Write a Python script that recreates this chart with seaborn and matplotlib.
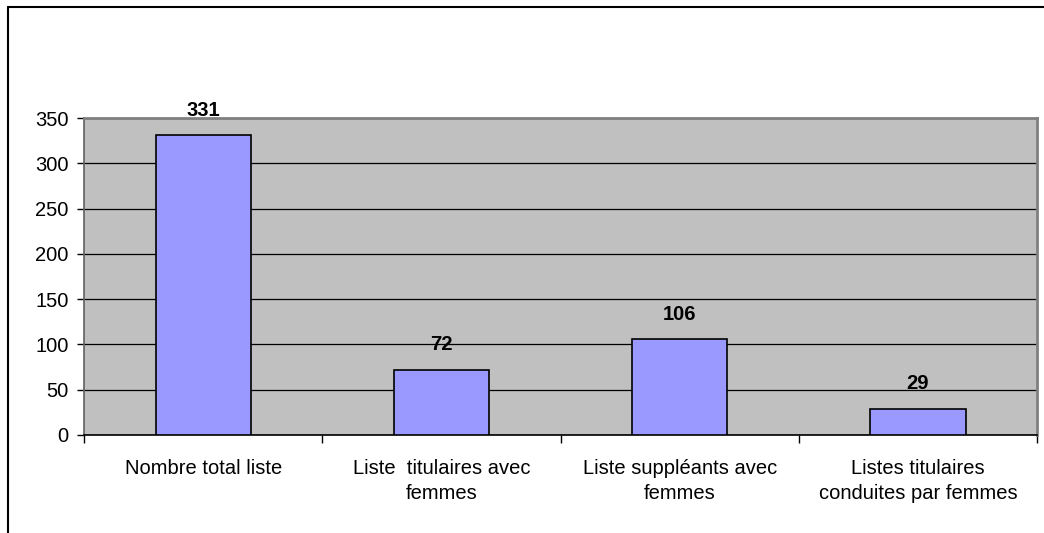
import seaborn as sns
import matplotlib.pyplot as plt
from matplotlib.lines import Line2D

# data
categories = ["Nombre total liste",
              "Liste  titulaires avec\nfemmes",
              "Liste suppléants avec\nfemmes",
              "Listes titulaires\nconduites par femmes"]
values = [331, 72, 106, 29]
yticks = [0, 50, 100, 150, 200, 250, 300, 350]

sns.set_style("white")
plt.rcParams['font.family'] = ['Liberation Sans', 'DejaVu Sans']
plt.rcParams['text.color'] = 'black'
plt.rcParams['xtick.color'] = 'black'
plt.rcParams['ytick.color'] = 'black'

fig = plt.figure(figsize=(10.44, 5.33), dpi=100)
ax = fig.add_axes([0.0805, 0.1839, 0.9128, 0.5947])

sns.barplot(x=categories, y=values, color="#9999FF", edgecolor="black",
            linewidth=1.2, width=0.4, saturation=1, ax=ax, zorder=3)

ax.set_facecolor("#C0C0C0")
ax.set_xlim(-0.5, len(categories) - 0.5)
ax.set_ylim(0, 350)
ax.set_yticks(yticks)
ax.set_yticklabels([str(v) for v in yticks], fontsize=14.5)
ax.yaxis.grid(True, color="black", linewidth=0.9, zorder=0)
ax.set_axisbelow(True)

# category ticks sit between the bars
ax.set_xticks(range(len(categories)))
ax.set_xticklabels(categories, fontsize=14.5, linespacing=1.45)
ax.tick_params(axis="x", length=0, pad=17)
ax.tick_params(axis="y", length=5, width=1, color="black", direction="out", pad=6, left=True)
ax.set_xticks([i - 0.5 for i in range(len(categories) + 1)], minor=True)
ax.tick_params(axis="x", which="minor", length=6, width=1, color="black", direction="out", bottom=True)

for side in ["top", "right"]:
    ax.spines[side].set_color("#808080")
    ax.spines[side].set_linewidth(2)
ax.spines["left"].set_color("#606060")
ax.spines["left"].set_linewidth(1.2)
ax.spines["bottom"].set_color("black")
ax.spines["bottom"].set_linewidth(1.2)

for i, v in enumerate(values):
    ax.annotate(str(v), (i, v), xytext=(0, 11), textcoords="offset points",
                ha="center", va="bottom", fontsize=14.5, fontweight="bold")

# outer chart frame (left and top edges visible)
fig.add_artist(Line2D([0.0077, 0.0077], [0, 0.987], transform=fig.transFigure,
                      color="black", linewidth=1.5))
fig.add_artist(Line2D([0.0077, 1.0], [0.987, 0.987], transform=fig.transFigure,
                      color="black", linewidth=1.5))

fig.savefig("out.png", dpi=100)
